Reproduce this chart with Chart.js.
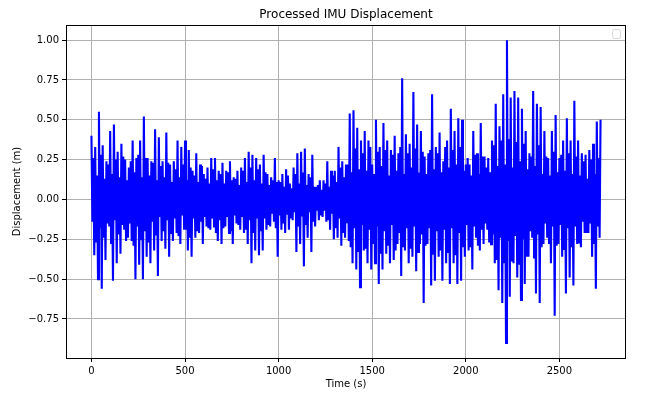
<!DOCTYPE html>
<html>
<head>
<meta charset="utf-8">
<script src="https://cdn.jsdelivr.net/npm/chart.js@4/dist/chart.umd.min.js"></script>
<style>
  html, body { margin: 0; padding: 0; background: #fff; }
  canvas { display: block; }
</style>
</head>
<body>
<canvas id="c" width="650" height="397"></canvas>
<script>
// ---- data ----
const TITLE = "Processed IMU Displacement";
const X_LABEL = "Time (s)";
const Y_LABEL = "Displacement (m)";
const T_START = 0;      // first sample time (s)
const T_STEP = 5;       // sample spacing (s)
// displacement samples (m), every 5 s from 0 to 2720 s
const DISPLACEMENT = [
  0.40,-0.14,0.26,-0.35, 0.33,-0.27,0.15,-0.50, 0.55,-0.18,0.28,-0.56, 0.34,-0.24,0.13,-0.38, 0.24,-0.15,0.22,-0.17,
  0.43,-0.28,0.16,-0.51, 0.47,-0.13,0.25,-0.40, 0.30,-0.22,0.14,-0.34, 0.35,-0.16,0.27,-0.19, 0.25,-0.26,0.12,-0.24,
  0.20,-0.15,0.24,-0.26, 0.37,-0.29,0.17,-0.50, 0.26,-0.17,0.28,-0.41, 0.37,-0.25,0.14,-0.50, 0.52,-0.20,0.26,-0.36,
  0.26,-0.27,0.15,-0.40, 0.24,-0.14,0.23,-0.32, 0.44,-0.22,0.12,-0.48, 0.39,-0.11,0.21,-0.26, 0.24,-0.20,0.14,-0.31,
  0.42,-0.13,0.23,-0.36, 0.22,-0.21,0.11,-0.26, 0.24,-0.12,0.19,-0.21, 0.37,-0.23,0.14,-0.28, 0.33,-0.10,0.22,-0.19,
  0.37,-0.19,0.12,-0.32, 0.31,-0.24,0.20,-0.36, 0.18,-0.12,0.15,-0.24, 0.29,-0.20,0.11,-0.21, 0.22,-0.14,0.21,-0.28,
  0.16,-0.11,0.13,-0.17, 0.20,-0.18,0.10,-0.19, 0.26,-0.12,0.19,-0.17, 0.26,-0.21,0.12,-0.26, 0.18,-0.13,0.16,-0.28,
  0.23,-0.18,0.10,-0.17, 0.18,-0.11,0.17,-0.21, 0.24,-0.20,0.12,-0.28, 0.14,-0.10,0.13,-0.15, 0.18,-0.16,0.09,-0.19,
  0.20,-0.11,0.18,-0.21, 0.26,-0.19,0.11,-0.28, 0.30,-0.13,0.20,-0.40, 0.28,-0.21,0.12,-0.32, 0.26,-0.12,0.19,-0.35,
  0.22,-0.20,0.10,-0.32, 0.28,-0.12,0.17,-0.19, 0.16,-0.16,0.09,-0.17, 0.14,-0.09,0.12,-0.14, 0.26,-0.18,0.11,-0.36,
  0.12,-0.10,0.11,-0.19, 0.16,-0.15,0.08,-0.21, 0.19,-0.09,0.15,-0.19, 0.10,-0.12,0.07,-0.13, 0.20,-0.08,0.16,-0.33,
  0.29,-0.17,0.10,-0.28, 0.30,-0.10,0.17,-0.42, 0.32,-0.16,0.09,-0.24, 0.16,-0.08,0.14,-0.33, 0.28,-0.14,0.08,-0.17,
  0.08,-0.07,0.09,-0.13, 0.12,-0.10,0.06,-0.11, 0.12,-0.07,0.10,-0.14, 0.24,-0.13,0.08,-0.19, 0.18,-0.09,0.15,-0.25,
  0.18,-0.18,0.11,-0.24, 0.33,-0.12,0.20,-0.29, 0.24,-0.21,0.14,-0.24, 0.22,-0.15,0.22,-0.26, 0.54,-0.30,0.17,-0.40,
  0.56,-0.18,0.32,-0.44, 0.45,-0.33,0.19,-0.55, 0.37,-0.16,0.29,-0.32, 0.43,-0.31,0.18,-0.40, 0.37,-0.19,0.33,-0.44,
  0.22,-0.28,0.16,-0.40, 0.50,-0.17,0.30,-0.53, 0.33,-0.34,0.21,-0.44, 0.48,-0.20,0.31,-0.34, 0.37,-0.29,0.15,-0.40,
  0.31,-0.16,0.28,-0.38, 0.40,-0.32,0.18,-0.28, 0.29,-0.21,0.33,-0.48, 0.76,-0.30,0.16,-0.32, 0.41,-0.18,0.29,-0.40,
  0.35,-0.31,0.20,-0.36, 0.675,-0.17,0.32,-0.45, 0.47,-0.33,0.17,-0.28, 0.43,-0.22,0.30,-0.65, 0.27,-0.29,0.16,-0.28,
  0.29,-0.18,0.31,-0.54, 0.66,-0.34,0.19,-0.51, 0.33,-0.20,0.29,-0.36, 0.42,-0.32,0.17,-0.51, 0.24,-0.19,0.33,-0.40,
  0.37,-0.33,0.20,-0.53, 0.57,-0.18,0.31,-0.40, 0.43,-0.35,0.22,-0.53, 0.51,-0.21,0.33,-0.51, 0.50,-0.30,0.18,-0.36,
  0.22,-0.16,0.26,-0.32, 0.22,-0.30,0.15,-0.44, 0.43,-0.17,0.28,-0.24, 0.29,-0.29,0.16,-0.32, 0.48,-0.19,0.27,-0.28,
  0.27,-0.15,0.20,-0.19, 0.26,-0.27,0.17,-0.28, 0.37,-0.22,0.34,-0.40, 0.60,-0.38,0.21,-0.57, 0.46,-0.24,0.37,-0.65,
  0.66,-0.40,0.22,-0.90, 1.00,-0.26,0.38,-0.61, 0.64,-0.39,0.20,-0.40, 0.68,-0.23,0.36,-0.49, 0.64,-0.41,0.24,-0.63,
  0.57,-0.25,0.35,-0.53, 0.43,-0.36,0.19,-0.36, 0.29,-0.20,0.27,-0.24, 0.68,-0.37,0.21,-0.59, 0.60,-0.22,0.34,-0.65,
  0.58,-0.30,0.16,-0.28, 0.43,-0.15,0.27,-0.24, 0.26,-0.28,0.15,-0.40, 0.43,-0.17,0.30,-0.73, 0.53,-0.29,0.17,-0.28,
  0.26,-0.16,0.28,-0.36, 0.37,-0.31,0.18,-0.59, 0.51,-0.18,0.29,-0.49, 0.37,-0.30,0.16,-0.54, 0.62,-0.17,0.27,-0.28,
  0.37,-0.27,0.15,-0.30, 0.29,-0.14,0.24,-0.21, 0.28,-0.21,0.13,-0.21, 0.31,-0.15,0.25,-0.36, 0.35,-0.28,0.16,-0.56,
  0.49,-0.17,0.26,-0.24, 0.50
];
const X_TICKS = [0, 500, 1000, 1500, 2000, 2500];
const X_TICK_LABELS = ["0", "500", "1000", "1500", "2000", "2500"];
const Y_TICKS = [-0.75, -0.5, -0.25, 0, 0.25, 0.5, 0.75, 1.0];
const Y_TICK_LABELS = ["\u22120.75", "\u22120.50", "\u22120.25", "0.00", "0.25", "0.50", "0.75", "1.00"];
const X_RANGE = [-136, 2856];
const Y_RANGE = [-0.995, 1.095];

// ---- chart ----
const points = DISPLACEMENT.map((v, i) => ({ x: T_START + i * T_STEP, y: v }));
const FONT = "'DejaVu Sans', sans-serif";

const decorations = {
  id: 'decorations',
  afterDraw(chart) {
    const { ctx, chartArea: a } = chart;
    ctx.save();
    // axes box
    ctx.strokeStyle = '#000';
    ctx.lineWidth = 1;
    ctx.strokeRect(Math.round(a.left) + 0.5, Math.round(a.top) + 0.5,
                   Math.round(a.right - a.left) - 1, Math.round(a.bottom - a.top));
    // empty legend frame (upper right)
    const lx = a.right - 13.5, ly = a.top + 4.5, lw = 8, lh = 9, r = 2;
    ctx.beginPath();
    ctx.moveTo(lx + r, ly);
    ctx.lineTo(lx + lw - r, ly); ctx.quadraticCurveTo(lx + lw, ly, lx + lw, ly + r);
    ctx.lineTo(lx + lw, ly + lh - r); ctx.quadraticCurveTo(lx + lw, ly + lh, lx + lw - r, ly + lh);
    ctx.lineTo(lx + r, ly + lh); ctx.quadraticCurveTo(lx, ly + lh, lx, ly + lh - r);
    ctx.lineTo(lx, ly + r); ctx.quadraticCurveTo(lx, ly, lx + r, ly);
    ctx.closePath();
    ctx.fillStyle = 'rgba(255,255,255,0.8)';
    ctx.fill();
    ctx.strokeStyle = '#d6d6d6';
    ctx.stroke();
    // texts
    ctx.fillStyle = '#000';
    ctx.textAlign = 'center';
    ctx.textBaseline = 'middle';
    const cx = (a.left + a.right) / 2;
    ctx.font = '12px ' + FONT;
    ctx.fillText(TITLE, cx, 15);
    ctx.font = '10px ' + FONT;
    ctx.fillText(X_LABEL, cx, 384);
    ctx.translate(17, (a.top + a.bottom) / 2);
    ctx.rotate(-Math.PI / 2);
    ctx.fillText(Y_LABEL, 0, 0);
    ctx.restore();
  }
};

new Chart(document.getElementById('c'), {
  type: 'line',
  data: {
    datasets: [{
      data: points,
      borderColor: '#0000ff',
      borderWidth: 2.1,
      pointRadius: 0,
      tension: 0,
      fill: false
    }]
  },
  options: {
    responsive: false,
    animation: false,
    devicePixelRatio: 1,
    layout: { padding: { top: 25, right: 24, left: 0, bottom: 0 } },
    plugins: { legend: { display: false }, title: { display: false }, tooltip: { enabled: false } },
    scales: {
      x: {
        type: 'linear',
        min: X_RANGE[0], max: X_RANGE[1],
        afterBuildTicks: (s) => { s.ticks = X_TICKS.map(v => ({ value: v })); },
        afterFit: (s) => { s.height = 39; },
        grid: { color: '#b0b0b0', lineWidth: 1, tickColor: '#000', tickLength: 4, drawTicks: true },
        border: { display: false },
        ticks: {
          color: '#000', font: { family: FONT, size: 10 }, padding: 3, maxRotation: 0,
          callback: (v, i) => X_TICK_LABELS[i]
        }
      },
      y: {
        type: 'linear',
        min: Y_RANGE[0], max: Y_RANGE[1],
        afterBuildTicks: (s) => { s.ticks = Y_TICKS.map(v => ({ value: v })); },
        afterFit: (s) => { s.width = 66; },
        grid: { color: '#b0b0b0', lineWidth: 1, tickColor: '#000', tickLength: 4, drawTicks: true },
        border: { display: false },
        ticks: {
          color: '#000', font: { family: FONT, size: 10 }, padding: 3,
          callback: (v, i) => Y_TICK_LABELS[i]
        }
      }
    }
  },
  plugins: [decorations]
});
</script>
</body>
</html>
